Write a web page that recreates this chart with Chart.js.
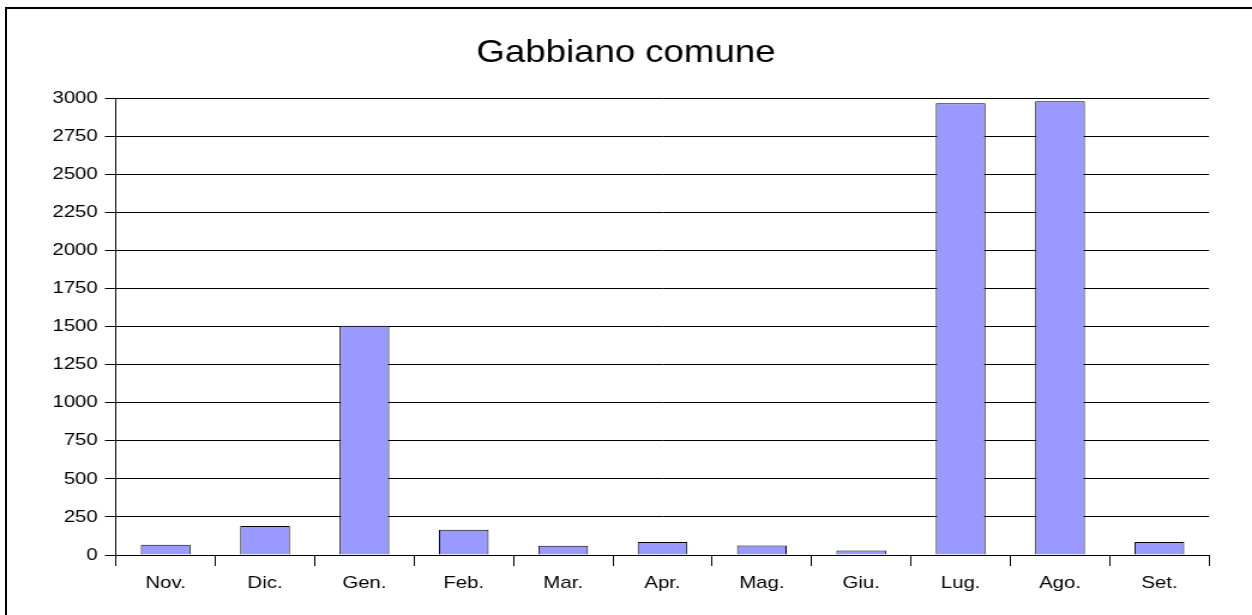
<!DOCTYPE html>
<html>
<head>
<meta charset="utf-8">
<script src="https://cdn.jsdelivr.net/npm/chart.js@4"></script>
<style>
  html, body { margin: 0; padding: 0; background: #fff; overflow: hidden; }
  body { width: 1252px; height: 615px; position: relative; }
  #frame { position: absolute; left: 5px; top: 7px; width: 1400px; height: 800px; border: 2px solid #000; box-sizing: border-box; pointer-events: none; z-index: 2; }
  #wrap { position: absolute; left: 0; top: 0; width: 1044px; height: 615px; transform-origin: 0 0; transform: scaleX(1.19923); }
</style>
</head>
<body>
<div id="frame"></div>
<div id="wrap"><canvas id="c" width="1044" height="615"></canvas></div>
<script>
const titleText = "Gabbiano comune";
const categories = ["Nov.", "Dic.", "Gen.", "Feb.", "Mar.", "Apr.", "Mag.", "Giu.", "Lug.", "Ago.", "Set."];
const values = [68, 190, 1505, 166, 60, 85, 62, 30, 2965, 2978, 85];
const yTicks = [0, 250, 500, 750, 1000, 1250, 1500, 1750, 2000, 2250, 2500, 2750, 3000];

const FONT = "'Liberation Sans', Arial, sans-serif";
const nCat = categories.length;

new Chart(document.getElementById('c'), {
  type: 'bar',
  data: {
    labels: categories,
    datasets: [{
      data: values,
      backgroundColor: '#9999FF',
      borderColor: '#000000',
      borderWidth: 1,
      barPercentage: 0.5,
      categoryPercentage: 1.0
    }]
  },
  options: {
    responsive: false,
    animation: false,
    devicePixelRatio: 1,
    layout: { padding: 0 },
    plugins: {
      legend: { display: false },
      tooltip: { enabled: false },
      title: {
        display: true,
        text: titleText,
        color: '#000',
        font: { family: FONT, size: 30.5, weight: 'normal', lineHeight: 1.2 },
        padding: { top: 35.5, bottom: 25.9 }
      }
    },
    scales: {
      x: {
        offset: true,
        grid: {
          offset: true,
          drawOnChartArea: false,
          drawTicks: true,
          tickLength: 11,
          color: (ctx) => (ctx.index === nCat ? 'rgba(0,0,0,0)' : '#000'),
          lineWidth: 1
        },
        border: { display: true, color: '#000', width: 1 },
        ticks: {
          color: '#000',
          font: { family: FONT, size: 17 },
          padding: 7,
          maxRotation: 0,
          autoSkip: false
        },
        afterFit: (scale) => { scale.height = 60; }
      },
      y: {
        min: 0,
        max: 3000,
        afterBuildTicks: (scale) => { scale.ticks = yTicks.map(v => ({ value: v })); },
        grid: {
          color: '#000',
          lineWidth: 1,
          drawTicks: true,
          tickLength: 9.2
        },
        border: { display: true, color: '#000', width: 1 },
        ticks: {
          color: '#000',
          font: { family: FONT, size: 17 },
          padding: 6,
          callback: (v) => String(v)
        },
        afterFit: (scale) => { scale.width = 96.7; }
      },
      spacer: {
        type: 'linear',
        position: 'right',
        display: true,
        grid: { display: false, drawTicks: false },
        border: { display: false },
        ticks: { display: false },
        afterFit: (scale) => { scale.width = 35.8; }
      }
    }
  }
});
</script>
</body>
</html>
